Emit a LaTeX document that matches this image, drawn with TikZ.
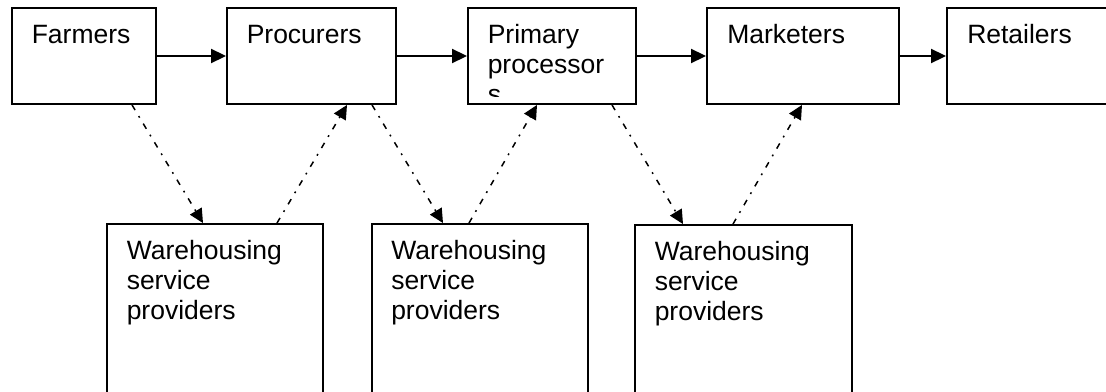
\documentclass[tikz,border=0pt]{standalone}
\usepackage{fontspec}
\setmainfont{Liberation Sans}
\usetikzlibrary{arrows.meta}

\tikzset{
  box/.style={draw=black, line width=1.9pt, fill=none, inner sep=0pt,
              minimum height=96pt, rectangle},
  lowbox/.style={box, minimum height=210pt},
  caption/.style={anchor=base west, inner sep=0pt, align=left,
                  font=\fontsize{26.5pt}{30pt}\selectfont},
  flow/.style={line width=1.9pt, -{Triangle[length=15pt,width=14pt]}},
  service/.style={line width=1.5pt, dash pattern=on 6pt off 7pt on 1.8pt off 7pt,
                  -{Triangle[length=14pt,width=13.5pt]}},
}

\begin{document}
\begin{tikzpicture}[x=1pt, y=-1pt]
  \useasboundingbox (0,0) rectangle (1106,391);
  \clip (0,0) rectangle (1106,391);
  \fill[white] (0,0) rectangle (1106,391);

  % supply chain stages
  \node[box, minimum width=144pt] (farmers)   at (84,56)    {};
  \node[box, minimum width=169pt] (procurers) at (311.5,56) {};
  \node[box, minimum width=168pt] (primary)   at (552,56)   {};
  \node[box, minimum width=192pt] (marketers) at (803,56)   {};
  \node[box, minimum width=180pt] (retailers) at (1037,56)  {};

  % warehousing boxes
  \node[lowbox, minimum width=216pt] (wh1) at (215,329)   {};
  \node[lowbox, minimum width=216pt] (wh2) at (480,329)   {};
  \node[lowbox, minimum width=217pt] (wh3) at (743.5,330) {};

  % labels (multi-line labels sit on their last baseline)
  \node[caption] (farmers-t)   at ([xshift=20.5pt,yshift=-36pt]farmers.north west)   {Farmers};
  \node[caption] (procurers-t) at ([xshift=20.5pt,yshift=-36pt]procurers.north west) {Procurers};
  \begin{scope}
    \clip (primary.north west) rectangle ([yshift=8pt]primary.south east);
    \node[caption] (primary-t) at ([xshift=20.5pt,yshift=-96pt]primary.north west) {Primary\\processor\\s};
  \end{scope}
  \node[caption] (marketers-t) at ([xshift=21pt,yshift=-36pt]marketers.north west) {Marketers};
  \node[caption] (retailers-t) at ([xshift=21pt,yshift=-36pt]retailers.north west) {Retailers};
  \node[caption] (wh1-t) at ([xshift=20.5pt,yshift=-96pt]wh1.north west) {Warehousing\\service\\providers};
  \node[caption] (wh2-t) at ([xshift=20pt,yshift=-96pt]wh2.north west)   {Warehousing\\service\\providers};
  \node[caption] (wh3-t) at ([xshift=20.5pt,yshift=-96pt]wh3.north west) {Warehousing\\service\\providers};

  % main flow
  \draw[flow] (farmers.east)   -- (procurers.west);
  \draw[flow] (procurers.east) -- (primary.west);
  \draw[flow] (primary.east)   -- (marketers.west);
  \draw[flow] (marketers.east) -- (retailers.west);

  % warehousing links
  \draw[service] ([xshift=48pt]farmers.south)    -- ([xshift=-12pt]wh1.north);
  \draw[service] ([xshift=62pt]wh1.north)        -- ([xshift=35.5pt]procurers.south);
  \draw[service] ([xshift=60.5pt]procurers.south) -- ([xshift=-37pt]wh2.north);
  \draw[service] ([xshift=-11pt]wh2.north)       -- ([xshift=-15pt]primary.south);
  \draw[service] ([xshift=60pt]primary.south)    -- ([xshift=-60.5pt]wh3.north);
  \draw[service] ([xshift=-10.5pt]wh3.north)     -- ([xshift=-1pt]marketers.south);
\end{tikzpicture}
\end{document}
